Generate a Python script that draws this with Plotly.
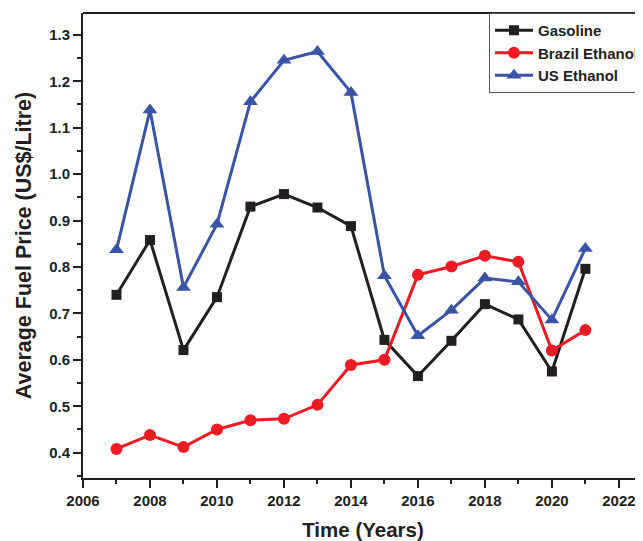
import plotly.graph_objects as go

years = [2007, 2008, 2009, 2010, 2011, 2012, 2013, 2014, 2015, 2016, 2017, 2018, 2019, 2020, 2021]
gasoline = [0.740, 0.858, 0.621, 0.735, 0.930, 0.957, 0.928, 0.888, 0.643, 0.565, 0.641, 0.720, 0.687, 0.575, 0.796]
brazil_ethanol = [0.408, 0.438, 0.412, 0.450, 0.470, 0.473, 0.503, 0.589, 0.600, 0.783, 0.801, 0.824, 0.811, 0.620, 0.664]
us_ethanol = [0.837, 1.138, 0.756, 0.892, 1.156, 1.245, 1.264, 1.176, 0.781, 0.652, 0.707, 0.776, 0.768, 0.686, 0.840]

series_names = ["Gasoline", "Brazil Ethanol", "US Ethanol"]
series_values = [gasoline, brazil_ethanol, us_ethanol]
colors = ["#231f20", "#ed1c24", "#3a53a4"]
symbols = ["square", "circle", "triangle-up"]
sizes = [10, 12, 13]

FONT = "Liberation Sans, Arial, sans-serif"
INK = "#231f20"

fig = go.Figure()
for name, vals, c, s, sz in zip(series_names, series_values, colors, symbols, sizes):
    fig.add_trace(go.Scatter(
        x=years, y=vals, name=name, mode="lines+markers",
        line=dict(color=c, width=3),
        marker=dict(symbol=s, size=sz, color=c, line=dict(width=0)),
        cliponaxis=False,
    ))

axis_common = dict(
    showline=True, linewidth=2, linecolor=INK, mirror=False,
    ticks="outside", ticklen=8, tickwidth=2, tickcolor=INK,
    showgrid=False, zeroline=False,
    tickfont=dict(family=FONT, size=15, color=INK, weight="bold"),
)

# page body has an 8px default margin, so the figure is offset by 8px
fig.update_layout(
    width=635, height=533,
    margin=dict(l=75, r=0, t=5, b=63, autoexpand=False),
    paper_bgcolor="white", plot_bgcolor="white",
    xaxis=dict(
        range=[2006, 2022.72], tick0=2006, dtick=2,
        minor=dict(dtick=1, ticks="outside", ticklen=4, tickwidth=2, tickcolor=INK, showgrid=False),
        title=dict(text="Time (Years)", font=dict(family=FONT, size=20.5, color=INK, weight="bold"), standoff=20),
        **axis_common,
    ),
    yaxis=dict(
        range=[0.3455, 1.347], tick0=0.4, dtick=0.1, tickformat=".1f",
        minor=dict(dtick=0.05, ticks="outside", ticklen=4, tickwidth=2, tickcolor=INK, showgrid=False),
        title=dict(text="Average Fuel Price (US$/Litre)", font=dict(family=FONT, size=21.5, color=INK, weight="bold"), standoff=12),
        **axis_common,
    ),
    legend=dict(
        x=0.725, y=1.0, xanchor="left", yanchor="top",
        bgcolor="white", bordercolor="#555555", borderwidth=1,
        font=dict(family=FONT, size=15, color=INK, weight="bold"),
        itemwidth=38, tracegroupgap=0,
    ),
    showlegend=True,
)

fig.add_shape(type="line", xref="paper", yref="paper", x0=0, x1=1, y0=1, y1=1,
              line=dict(color=INK, width=2))

fig.write_html("out.html")
